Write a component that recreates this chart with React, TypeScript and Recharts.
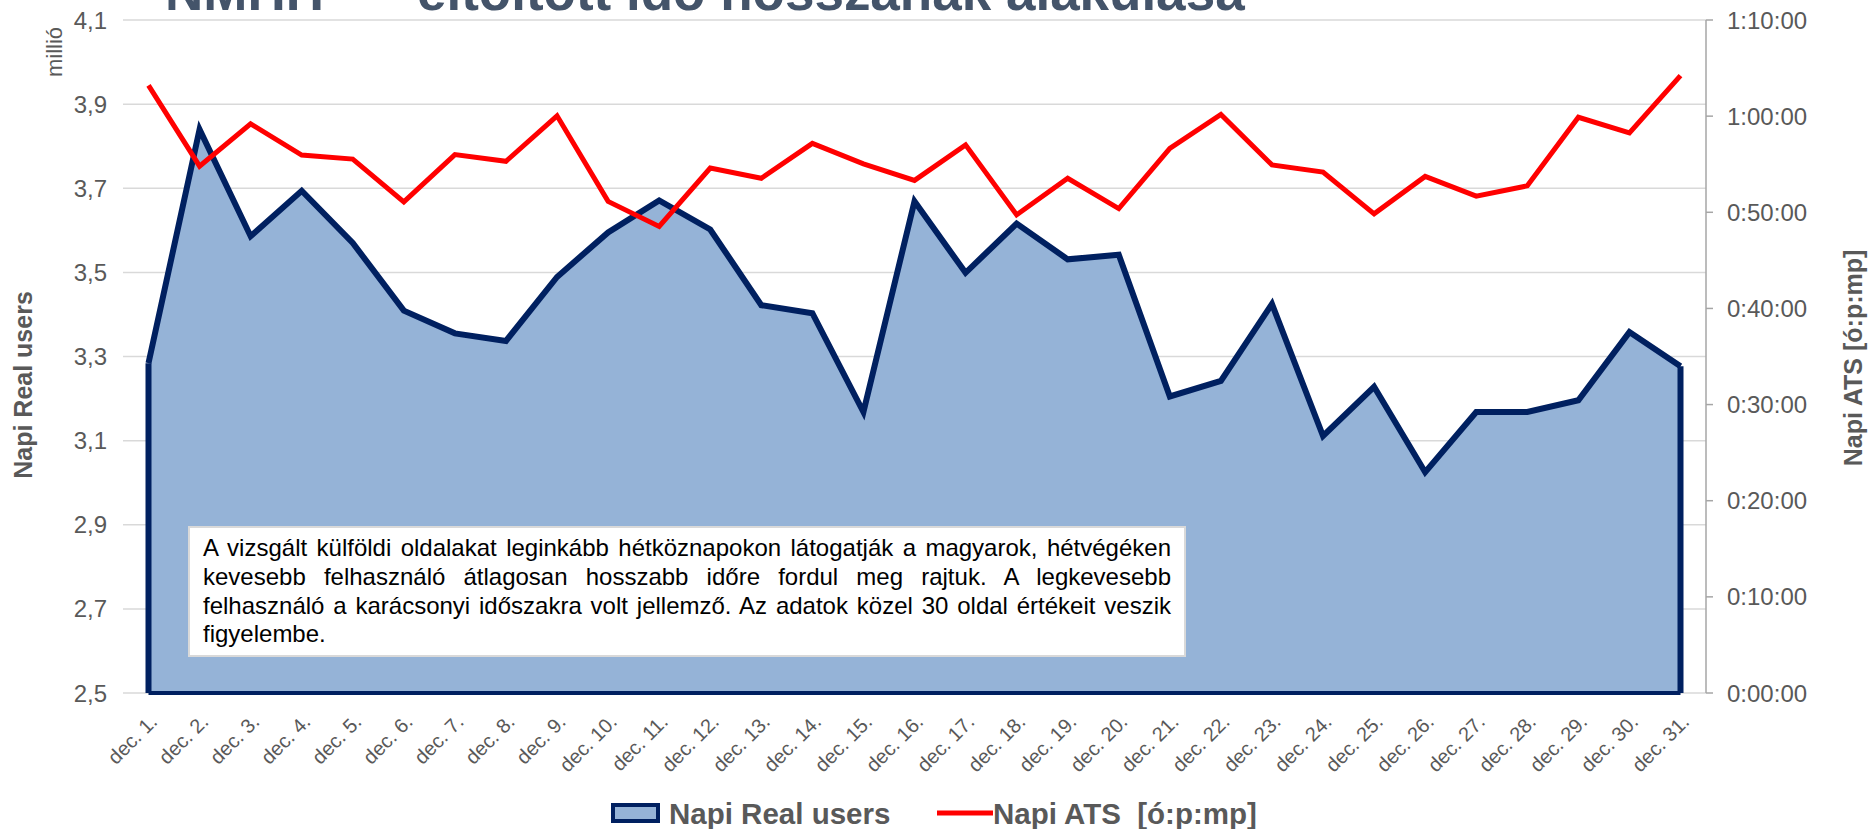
import { ComposedChart, Area, Line, XAxis, YAxis, CartesianGrid, ReferenceLine } from 'recharts'

const days = [
  'dec. 1.', 'dec. 2.', 'dec. 3.', 'dec. 4.', 'dec. 5.', 'dec. 6.', 'dec. 7.', 'dec. 8.',
  'dec. 9.', 'dec. 10.', 'dec. 11.', 'dec. 12.', 'dec. 13.', 'dec. 14.', 'dec. 15.', 'dec. 16.',
  'dec. 17.', 'dec. 18.', 'dec. 19.', 'dec. 20.', 'dec. 21.', 'dec. 22.', 'dec. 23.', 'dec. 24.',
  'dec. 25.', 'dec. 26.', 'dec. 27.', 'dec. 28.', 'dec. 29.', 'dec. 30.', 'dec. 31.',
]

// napi real users, millió
const realUsers = [
  3.284, 3.84, 3.586, 3.694, 3.57, 3.409, 3.355, 3.337, 3.489, 3.595,
  3.671, 3.602, 3.422, 3.403, 3.168, 3.669, 3.499, 3.616, 3.531, 3.542,
  3.205, 3.242, 3.425, 3.111, 3.228, 3.025, 3.168, 3.168, 3.196, 3.358, 3.277,
]

// napi ATS, másodperc
const atsSeconds = [
  3792, 3288, 3552, 3357, 3332, 3065, 3360, 3318, 3602, 3068,
  2912, 3276, 3212, 3430, 3302, 3199, 3421, 2984, 3212, 3023,
  3399, 3610, 3296, 3251, 2990, 3224, 3101, 3165, 3593, 3496, 3853,
]

const leftTicks = [2.5, 2.7, 2.9, 3.1, 3.3, 3.5, 3.7, 3.9, 4.1]
const rightTicks = [0, 600, 1200, 1800, 2400, 3000, 3600, 4200]

const data = days.map((day, i) => ({ day, users: realUsers[i], ats: atsSeconds[i] }))

const FONT = '"Liberation Sans", Arial, sans-serif'
const GREY = '#595959'
const NAVY = '#002060'
const FILL = '#95b3d7'

const fmtTime = (s: number) => {
  const h = Math.floor(s / 3600)
  const m = Math.floor((s % 3600) / 60)
  const sec = Math.round(s % 60)
  return `${h}:${String(m).padStart(2, '0')}:${String(sec).padStart(2, '0')}`
}

function DayTick({ x, y, payload }: any) {
  const ax = x + 10
  const ay = y + 22
  return (
    <text x={ax} y={ay} transform={`rotate(-45, ${ax}, ${ay})`} textAnchor="end" fontSize={20} fill={GREY} fontFamily={FONT}>
      {payload.value}
    </text>
  )
}

export default function App() {
  return (
    <div style={{ position: 'absolute', left: 0, top: 0, width: 1874, height: 829, background: '#fff', fontFamily: FONT }}>
      <ComposedChart width={1874} height={829} data={data} margin={{ top: 20, right: 68, bottom: 76, left: 63 }}>
        <CartesianGrid yAxisId="left" vertical={false} stroke="#d9d9d9" strokeWidth={1.5} />
        <XAxis
          dataKey="day"
          height={60}
          interval={0}
          padding={{ left: 25.5, right: 25.5 }}
          axisLine={false}
          tickLine={false}
          tick={<DayTick />}
        />
        <YAxis
          yAxisId="left"
          width={60}
          domain={[2.5, 4.1]}
          ticks={leftTicks}
          interval={0}
          axisLine={false}
          tickLine={false}
          tickSize={6}
          tickMargin={10}
          tick={{ fill: GREY, fontSize: 24, fontFamily: FONT }}
          tickFormatter={(v: number) => v.toFixed(1).replace('.', ',')}
        />
        <YAxis
          yAxisId="right"
          orientation="right"
          width={100}
          domain={[0, 4200]}
          ticks={rightTicks}
          interval={0}
          axisLine={{ stroke: '#a6a6a6', strokeWidth: 1.5 }}
          tickLine={{ stroke: '#a6a6a6', strokeWidth: 1.5 }}
          tickSize={7}
          tickMargin={14}
          tick={{ fill: GREY, fontSize: 24, fontFamily: FONT }}
          tickFormatter={fmtTime}
        />
        <Area
          yAxisId="left"
          type="linear"
          dataKey="users"
          fill={FILL}
          fillOpacity={1}
          stroke={NAVY}
          strokeWidth={6}
          dot={false}
          activeDot={false}
          isAnimationActive={false}
        />
        <ReferenceLine
          yAxisId="left"
          segment={[{ x: days[0], y: 2.5 }, { x: days[0], y: realUsers[0] }]}
          stroke={NAVY}
          strokeWidth={6}
        />
        <ReferenceLine
          yAxisId="left"
          segment={[{ x: days[days.length - 1], y: 2.5 }, { x: days[days.length - 1], y: realUsers[realUsers.length - 1] }]}
          stroke={NAVY}
          strokeWidth={6}
        />
        <ReferenceLine
          yAxisId="left"
          segment={[{ x: days[0], y: 2.5 }, { x: days[days.length - 1], y: 2.5 }]}
          stroke={NAVY}
          strokeWidth={4}
        />
        <Line
          yAxisId="right"
          type="linear"
          dataKey="ats"
          stroke="#ff0000"
          strokeWidth={5}
          dot={false}
          activeDot={false}
          isAnimationActive={false}
        />
      </ComposedChart>

      <svg width={1874} height={829} style={{ position: 'absolute', left: 0, top: 0, pointerEvents: 'none' }} fontFamily={FONT}>
        <text x={165} y={10} fontSize={53} fontWeight="bold" fill="#44546a">NMHH</text>
        <text x={417} y={10} fontSize={53} fontWeight="bold" fill="#44546a">eltöltött idő hosszának alakulása</text>

        <text transform="translate(62, 52) rotate(-90)" textAnchor="middle" fontSize={22} fill={GREY}>millió</text>
        <text transform="translate(32, 385) rotate(-90)" textAnchor="middle" fontSize={25} fontWeight="bold" fill={GREY}>Napi Real users</text>
        <text transform="translate(1862, 358) rotate(-90)" textAnchor="middle" fontSize={25} fontWeight="bold" fill={GREY}>Napi ATS [ó:p:mp]</text>

        <rect x={613} y={805} width={45} height={16} fill={FILL} stroke={NAVY} strokeWidth={4} />
        <text x={669} y={824} fontSize={29.5} fontWeight="bold" fill={GREY}>Napi Real users</text>
        <line x1={937} y1={813} x2={993} y2={813} stroke="#ff0000" strokeWidth={5} />
        <text x={993} y={824} fontSize={29.5} fontWeight="bold" fill={GREY} style={{ whiteSpace: 'pre' }}>{'Napi ATS  [ó:p:mp]'}</text>
      </svg>

      <div
        style={{
          position: 'absolute',
          left: 188,
          top: 526,
          width: 998,
          height: 131,
          boxSizing: 'border-box',
          background: '#fff',
          border: '2px solid #d9d9d9',
          padding: '6px 13px 0 13px',
          fontSize: 24,
          lineHeight: '28.8px',
          textAlign: 'justify',
          color: '#000',
          fontFamily: FONT,
        }}
      >
        A vizsgált külföldi oldalakat leginkább hétköznapokon látogatják a magyarok, hétvégéken kevesebb felhasználó átlagosan hosszabb időre fordul meg rajtuk. A legkevesebb felhasználó a karácsonyi időszakra volt jellemző. Az adatok közel 30 oldal értékeit veszik figyelembe.
      </div>
    </div>
  )
}
